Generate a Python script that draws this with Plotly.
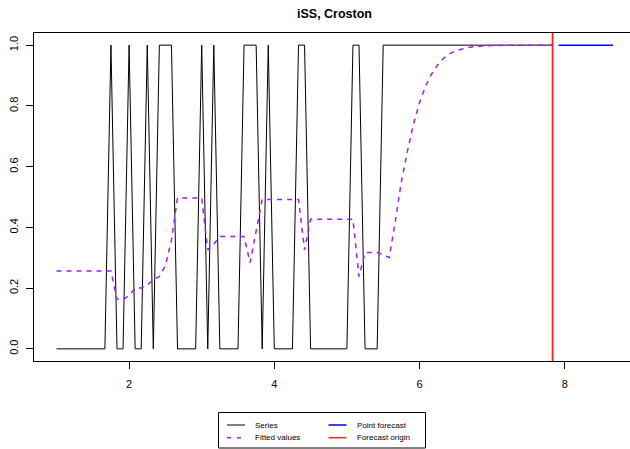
import plotly.graph_objects as go

# ---- data ----
start = 1.0
frequency = 12
series = [0, 0, 0, 0, 0, 0, 0, 0, 0, 1,
          0, 0, 1, 0, 0, 1, 0, 1, 1, 1,
          0, 0, 0, 0, 1, 0, 1, 0, 0, 0,
          0, 1, 1, 1, 0, 1, 0, 0, 0, 0,
          1, 1, 0, 0, 0, 0, 0, 0, 0, 1,
          1, 0, 0, 0, 1, 1, 1, 1, 1, 1,
          1, 1, 1, 1, 1, 1, 1, 1, 1, 1,
          1, 1, 1, 1, 1, 1, 1, 1, 1, 1,
          1, 1, 1]
fitted = [0.256, 0.256, 0.256, 0.256, 0.256, 0.256, 0.256, 0.256, 0.256, 0.256,
          0.163, 0.163, 0.175, 0.200, 0.200, 0.210, 0.227, 0.238, 0.274, 0.358,
          0.497, 0.497, 0.497, 0.497, 0.497, 0.326, 0.345, 0.370, 0.370, 0.370,
          0.370, 0.370, 0.284, 0.390, 0.492, 0.492, 0.492, 0.492, 0.492, 0.492,
          0.492, 0.326, 0.427, 0.427, 0.427, 0.427, 0.427, 0.427, 0.427, 0.427,
          0.238, 0.317, 0.317, 0.317, 0.310, 0.300, 0.420, 0.550, 0.650, 0.740,
          0.810, 0.865, 0.905, 0.935, 0.957, 0.972, 0.982, 0.988, 0.992, 0.995,
          0.997, 0.998, 0.999, 0.999, 1.000, 1.000, 1.000, 1.000, 1.000, 1.000,
          1.000, 1.000, 1.000]
forecast = [1, 1, 1, 1, 1, 1, 1, 1, 1, 1]
x_ticks = [2, 4, 6, 8]
y_ticks = [0.0, 0.2, 0.4, 0.6, 0.8, 1.0]
y_ticklabels = ["0.0", "0.2", "0.4", "0.6", "0.8", "1.0"]
title = "iSS, Croston"
legend_items = ["Series", "Fitted values", "Point forecast", "Forecast origin"]

t_series = [start + i / frequency for i in range(len(series))]
t_fc = [t_series[-1] + (i + 1) / frequency for i in range(len(forecast))]
origin = t_series[-1]

W, H = 630, 449
L, R, T, B = 34, 0, 33, 88
pw, ph = W - L - R, H - T - B


def px(xpix):
    return (xpix - L) / pw


def py(ypix):
    return (H - B - ypix) / ph


PURPLE = "#A020F0"
RED = "#FF2020"
FONT = "Liberation Sans, Arial, sans-serif"

fig = go.Figure()
fig.add_trace(go.Scatter(x=t_series, y=series, mode="lines",
                         line=dict(color="black", width=1), showlegend=False))
fig.add_trace(go.Scatter(x=t_series, y=fitted, mode="lines",
                         line=dict(color=PURPLE, width=1.5, dash="5px,5px"),
                         showlegend=False))
fig.add_trace(go.Scatter(x=t_fc, y=forecast, mode="lines",
                         line=dict(color="blue", width=1.5), showlegend=False))

shapes = [dict(type="line", xref="x", yref="paper", x0=origin, x1=origin,
               y0=0, y1=1, line=dict(color=RED, width=1.8))]

# manual legend
shapes.append(dict(type="rect", xref="paper", yref="paper",
                   x0=px(218.5), x1=px(425.5), y0=py(448), y1=py(412.5),
                   line=dict(color="black", width=1), fillcolor="white"))
leg_lines = [
    (227, 245, 425, "black", "solid", 1),
    (227, 245, 437.7, PURPLE, "4px,6px", 1.5),
    (328.5, 346.5, 425, "blue", "solid", 1.5),
    (328.5, 346.5, 437.7, RED, "solid", 1.5),
]
annotations = []
text_x = [253, 253, 355, 355]
for (x0, x1, yy, col, dash, w), label, tx in zip(leg_lines, legend_items, text_x):
    shapes.append(dict(type="line", xref="paper", yref="paper",
                       x0=px(x0), x1=px(x1), y0=py(yy), y1=py(yy),
                       line=dict(color=col, width=w, dash=dash)))
    annotations.append(dict(xref="paper", yref="paper", x=px(tx), y=py(yy),
                            text=label, showarrow=False, xanchor="left",
                            yanchor="middle", font=dict(size=8, color="black",
                                                        family=FONT)))

annotations.append(dict(xref="paper", yref="paper", x=px(334.5), y=py(14),
                        text="<b>" + title + "</b>", showarrow=False,
                        xanchor="center", yanchor="middle",
                        font=dict(size=12.5, color="black", family=FONT)))

x0_range = 1 - (56.5 - L) / 72.6
x1_range = x0_range + pw / 72.6

fig.update_layout(
    width=W, height=H,
    margin=dict(l=L, r=R, t=T, b=B, pad=0),
    paper_bgcolor="white", plot_bgcolor="white",
    font=dict(family=FONT, color="black", size=11),
    shapes=shapes, annotations=annotations, showlegend=False,
    xaxis=dict(range=[x0_range, x1_range], tickvals=x_ticks,
               ticks="outside", ticklen=7, tickwidth=1, tickcolor="black",
               showline=True, linecolor="black", linewidth=1, mirror=True,
               showgrid=False, zeroline=False, ticklabelstandoff=6,
               tickfont=dict(size=11)),
    yaxis=dict(range=[-0.04, 1.04], tickvals=y_ticks, ticktext=y_ticklabels,
               ticks="outside", ticklen=7, tickwidth=1, tickcolor="black",
               showline=True, linecolor="black", linewidth=1, mirror=False,
               showgrid=False, zeroline=False, tickangle=-90,
               tickfont=dict(size=11), ticklabelstandoff=4),
)

fig.write_html("out.html")
